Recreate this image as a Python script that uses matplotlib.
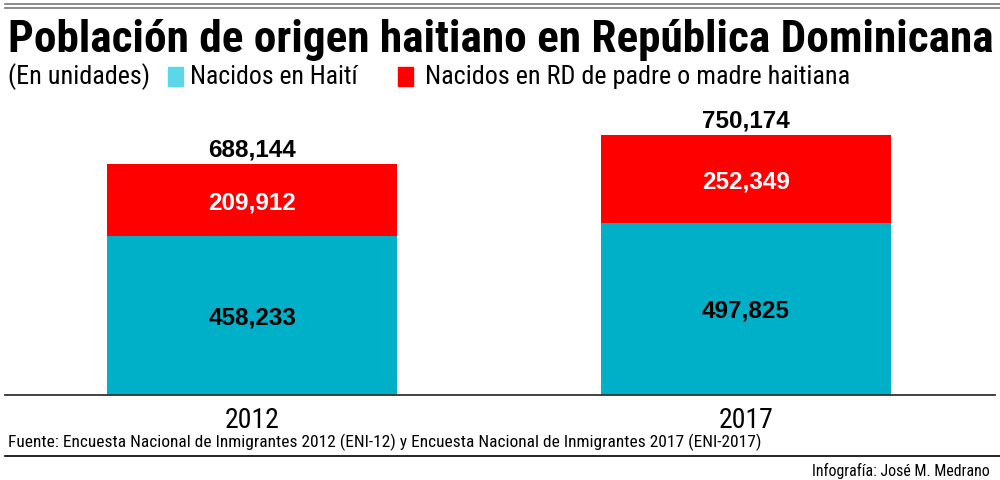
import numpy as np
import matplotlib.pyplot as plt

# datos (ENI-2012 y ENI-2017)
years = ["2012", "2017"]
nacidos_haiti = [458233, 497825]
nacidos_rd = [209912, 252349]
totals = [688144, 750174]

title = "Población de origen haitiano en República Dominicana"
legend_labels = ["Nacidos en Haití", "Nacidos en RD de padre o madre haitiana"]
source = ("Fuente: Encuesta Nacional de Inmigrantes 2012 (ENI-12) y "
          "Encuesta Nacional de Inmigrantes 2017 (ENI-2017)")
credit = "Infografía: José M. Medrano"

cyan = "#00B0C8"
cyan_legend = "#5AD8E8"
red = "#FF0000"

narrow = ["Roboto Condensed", "DejaVu Sans"]
plt.rcParams["font.family"] = ["Liberation Sans", "DejaVu Sans"]

W, H = 1000, 480
fig = plt.figure(figsize=(10, 4.8), dpi=100)
ax = fig.add_axes([0.005, 1 - 395 / H, 0.99, 290 / H])

x = np.arange(len(years))
width = 0.587
ax.bar(x, nacidos_haiti, width, color=cyan)
ax.bar(x, nacidos_rd, width, bottom=nacidos_haiti, color=red)

ax.set_xlim(-0.501, 1.505)
ax.set_ylim(0, 838000)

for i in range(len(years)):
    h = nacidos_haiti[i]
    r = nacidos_rd[i]
    ax.text(x[i], h / 2, f"{h:,}", ha="center", va="center_baseline",
            fontsize=17.5, fontweight="bold", color="black")
    ax.text(x[i], h + r / 2, f"{r:,}", ha="center", va="center_baseline",
            fontsize=17.5, fontweight="bold", color="white")
    ax.annotate(f"{totals[i]:,}", xy=(x[i], h + r), xytext=(0, 2),
                textcoords="offset points", ha="center", va="bottom",
                fontsize=17.5, fontweight="bold")

for s in ["top", "right", "left"]:
    ax.spines[s].set_visible(False)
ax.spines["bottom"].set_color("#333333")
ax.spines["bottom"].set_linewidth(1.3)
ax.set_yticks([])
ax.set_xticks(x, years)
ax.tick_params(axis="x", length=0, pad=9, labelsize=20)
for lbl in ax.get_xticklabels():
    lbl.set_family(narrow)

renderer = fig.canvas.get_renderer()


def fit_text(xpx, ypx, s, target_px, size, **kw):
    # place text and scale its size so that it spans target_px pixels
    t = fig.text(xpx / W, 1 - ypx / H, s, fontsize=size, family=narrow, **kw)
    w = t.get_window_extent(renderer).width
    t.set_fontsize(size * target_px / w)
    return t


# lineas superiores
for yy in [4, 8]:
    fig.add_artist(plt.Line2D([0.005, 1.0], [1 - yy / H, 1 - yy / H],
                              color="#777777", lw=1.2))

fit_text(8, 52, title, 984, 30, fontweight="bold", va="baseline")

# leyenda
fit_text(8, 84, "(En unidades)", 142, 17, va="baseline")
fig.patches.append(plt.Rectangle((168 / W, 1 - 86 / H), 15 / W, 19 / H,
                                 transform=fig.transFigure, color=cyan_legend))
fit_text(190, 84, legend_labels[0], 168, 17, va="baseline")
fig.patches.append(plt.Rectangle((398 / W, 1 - 86 / H), 15 / W, 19 / H,
                                 transform=fig.transFigure, color=red))
fit_text(425, 84, legend_labels[1], 424, 17, va="baseline")

fit_text(8, 447, source, 747, 12, va="baseline")
fig.add_artist(plt.Line2D([0.005, 1.0], [1 - 456 / H, 1 - 456 / H],
                          color="black", lw=1.2))
fit_text(990, 476, credit, 178, 11.5, ha="right", va="baseline")

fig.savefig("out.png", dpi=100)
